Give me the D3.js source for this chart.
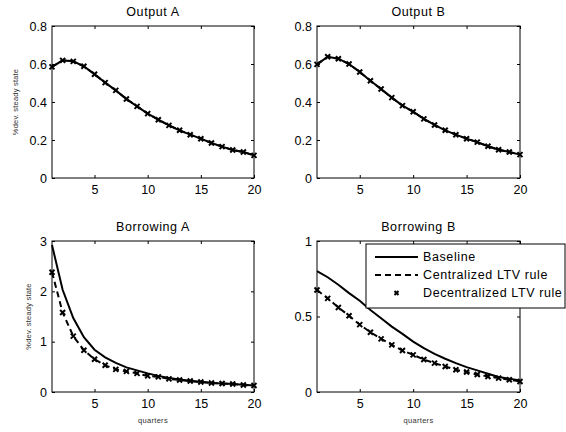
<!DOCTYPE html>
<html>
<head>
<meta charset="utf-8">
<script src="https://cdn.jsdelivr.net/npm/d3@7"></script>
<style>
  body { margin: 0; background: #fff; }
  svg { display: block; font-family: "Liberation Sans", Arial, sans-serif; }
</style>
</head>
<body>
<svg id="chart" width="566" height="432"></svg>
<script>
const quarters = d3.range(1, 21);

const outputA_baseline = [0.585,0.619,0.614,0.588,0.546,0.502,0.461,0.416,0.377,0.339,0.307,0.277,0.251,0.228,0.207,0.184,0.165,0.147,0.137,0.119];
const outputA_central  = [0.585,0.619,0.614,0.588,0.546,0.502,0.461,0.416,0.377,0.339,0.307,0.277,0.251,0.228,0.207,0.184,0.165,0.147,0.137,0.119];
const outputA_decentral= [0.585,0.619,0.614,0.588,0.546,0.502,0.461,0.416,0.377,0.339,0.307,0.277,0.251,0.228,0.207,0.184,0.165,0.147,0.137,0.119];

const outputB_baseline = [0.598,0.638,0.628,0.600,0.558,0.512,0.468,0.423,0.381,0.349,0.311,0.279,0.251,0.228,0.207,0.189,0.167,0.149,0.137,0.123];
const outputB_central  = [0.598,0.638,0.628,0.600,0.558,0.512,0.468,0.423,0.381,0.349,0.311,0.279,0.251,0.228,0.207,0.189,0.167,0.149,0.137,0.123];
const outputB_decentral= [0.598,0.638,0.628,0.600,0.558,0.512,0.468,0.423,0.381,0.349,0.311,0.279,0.251,0.228,0.207,0.189,0.167,0.149,0.137,0.123];

const borrowA_baseline = [2.92,2.03,1.47,1.09,0.84,0.69,0.58,0.49,0.43,0.37,0.32,0.28,0.25,0.22,0.20,0.18,0.17,0.16,0.145,0.13];
const borrowA_central  = [2.38,1.58,1.11,0.83,0.65,0.53,0.45,0.41,0.37,0.32,0.30,0.26,0.24,0.22,0.20,0.18,0.17,0.16,0.14,0.13];
const borrowA_decentral= [2.38,1.58,1.11,0.83,0.65,0.53,0.45,0.41,0.37,0.32,0.30,0.26,0.24,0.22,0.20,0.18,0.17,0.16,0.14,0.13];

const borrowB_baseline = [0.80,0.76,0.71,0.655,0.604,0.543,0.488,0.433,0.385,0.334,0.29,0.253,0.22,0.191,0.165,0.143,0.121,0.099,0.088,0.077];
const borrowB_central  = [0.675,0.62,0.56,0.505,0.446,0.396,0.352,0.312,0.275,0.246,0.215,0.191,0.169,0.147,0.132,0.116,0.103,0.092,0.081,0.070];
const borrowB_decentral= [0.675,0.62,0.56,0.505,0.446,0.396,0.352,0.312,0.275,0.246,0.215,0.191,0.169,0.147,0.132,0.116,0.103,0.092,0.081,0.070];

const xTicks = [5, 10, 15, 20];
const seriesNames = ["Baseline", "Centralized LTV rule", "Decentralized LTV rule"];

const panels = [
  { title: "Output A", yMax: 0.8, yTicks: [0,0.2,0.4,0.6,0.8], yFmt: d => d === 0 ? "0" : d3.format(".1f")(d),
    data: [outputA_baseline, outputA_central, outputA_decentral], box: [52, 26, 254, 178], ylabel: true, ylabelX: 15, xlabel: false },
  { title: "Output B", yMax: 0.8, yTicks: [0,0.2,0.4,0.6,0.8], yFmt: d => d === 0 ? "0" : d3.format(".1f")(d),
    data: [outputB_baseline, outputB_central, outputB_decentral], box: [317, 26, 520, 178], ylabel: false, xlabel: false },
  { title: "Borrowing A", yMax: 3, yTicks: [0,1,2,3], yFmt: d => String(d),
    data: [borrowA_baseline, borrowA_central, borrowA_decentral], box: [52, 241, 254, 392], ylabel: true, ylabelX: 28, xlabel: true },
  { title: "Borrowing B", yMax: 1, yTicks: [0,0.5,1], yFmt: d => String(d),
    data: [borrowB_baseline, borrowB_central, borrowB_decentral], box: [317, 241, 520, 392], ylabel: false, xlabel: true, legend: true }
];

const svg = d3.select("#chart");

function xMarker(g, x, y, s) {
  g.append("path")
    .attr("d", `M${x-s},${y-s}L${x+s},${y+s}M${x-s},${y+s}L${x+s},${y-s}`)
    .attr("stroke", "#000").attr("stroke-width", 2).attr("fill", "none");
}

panels.forEach(p => {
  const [x0, y0, x1, y1] = p.box;
  const x = d3.scaleLinear().domain([1, 20]).range([x0, x1]);
  const y = d3.scaleLinear().domain([0, p.yMax]).range([y1, y0]);
  const g = svg.append("g");

  g.append("rect").attr("x", x0).attr("y", y0).attr("width", x1 - x0).attr("height", y1 - y0)
    .attr("fill", "#fff").attr("stroke", "#000").attr("stroke-width", 1);

  const xa = g.append("g").attr("transform", `translate(0,${y1})`)
    .call(d3.axisBottom(x).tickValues(xTicks).tickSize(-3).tickPadding(7));
  const xaTop = g.append("g").attr("transform", `translate(0,${y0})`)
    .call(d3.axisTop(x).tickValues(xTicks).tickSize(-3).tickFormat(""));
  const ya = g.append("g").attr("transform", `translate(${x0},0)`)
    .call(d3.axisLeft(y).tickValues(p.yTicks).tickSize(-3).tickPadding(5).tickFormat(p.yFmt));
  const yaR = g.append("g").attr("transform", `translate(${x1},0)`)
    .call(d3.axisRight(y).tickValues(p.yTicks).tickSize(-3).tickFormat(""));
  [xa, xaTop, ya, yaR].forEach(a => {
    a.select(".domain").remove();
    a.selectAll("line").attr("stroke", "#000");
    a.selectAll("text").attr("font-size", 12.5).attr("fill", "#000")
      .attr("font-family", "Liberation Sans, Arial, sans-serif");
  });

  g.append("text").attr("x", (x0 + x1) / 2).attr("y", y0 - 10).attr("text-anchor", "middle")
    .attr("font-size", 12.5).attr("letter-spacing", 0.6).text(p.title);

  if (p.ylabel) {
    g.append("text").attr("transform", `translate(${p.ylabelX},${(y0 + y1) / 2}) rotate(-90)`)
      .attr("text-anchor", "middle").attr("dy", "0.35em").attr("font-size", 7.5).attr("fill", "#333")
      .attr("letter-spacing", 0.2).text("%dev. steady state");
  }
  if (p.xlabel) {
    g.append("text").attr("x", (x0 + x1) / 2).attr("y", y1 + 31).attr("text-anchor", "middle")
      .attr("font-size", 7.5).attr("fill", "#333").attr("letter-spacing", 0.3).text("quarters");
  }

  const line = d3.line().x((d, i) => x(quarters[i])).y(d => y(d));
  const lg0 = g.append("g");
  lg0.append("path").datum(p.data[0]).attr("d", line).attr("fill", "none").attr("stroke", "#000").attr("stroke-width", 2);
  lg0.append("path").datum(p.data[1]).attr("d", line).attr("fill", "none").attr("stroke", "#000").attr("stroke-width", 2)
    .attr("stroke-dasharray", "6,4");
  p.data[2].forEach((d, i) => xMarker(lg0, x(quarters[i]), y(d), 2.5));

  if (p.legend) {
    const lg = svg.append("g");
    const lx0 = 366, ly0 = 244, lw = 199, lh = 64;
    lg.append("rect").attr("x", lx0).attr("y", ly0).attr("width", lw).attr("height", lh)
      .attr("fill", "#fff").attr("stroke", "#000").attr("stroke-width", 1);
    const rows = [257, 275, 293];
    seriesNames.forEach((name, i) => {
      const ry = rows[i];
      if (i === 0) {
        lg.append("line").attr("x1", 375).attr("x2", 418).attr("y1", ry).attr("y2", ry)
          .attr("stroke", "#000").attr("stroke-width", 2);
      } else if (i === 1) {
        lg.append("line").attr("x1", 375).attr("x2", 418).attr("y1", ry).attr("y2", ry)
          .attr("stroke", "#000").attr("stroke-width", 2).attr("stroke-dasharray", "6,4");
      } else {
        xMarker(lg, 396.5, ry, 2);
      }
      lg.append("text").attr("x", 423).attr("y", ry).attr("dy", "0.35em").attr("font-size", 12.5)
        .attr("letter-spacing", 0.6).text(name);
    });
  }
});
</script>
</body>
</html>
